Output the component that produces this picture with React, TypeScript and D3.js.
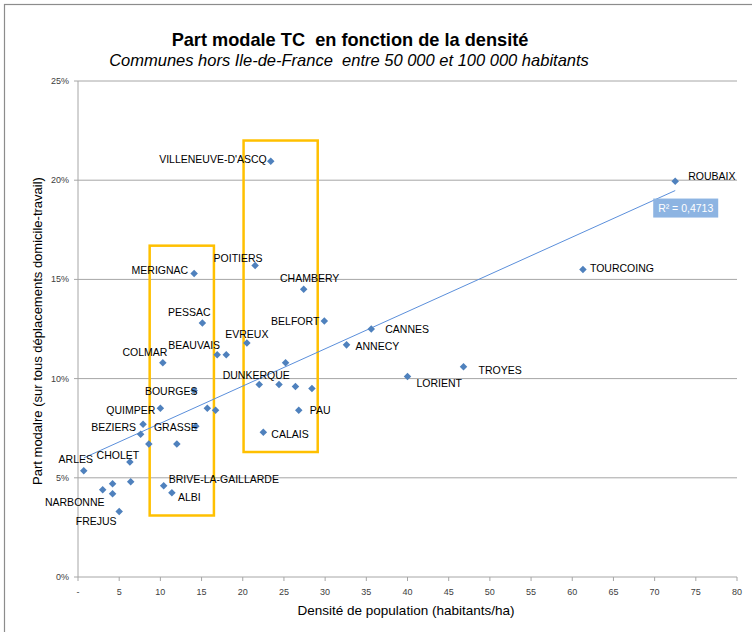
import React from "react";
import * as d3 from "d3";

// ---- data ----
const cities = [
  "ROUBAIX", "TOURCOING", "TROYES", "LORIENT", "CANNES", "ANNECY", "BELFORT", "CHAMBERY",
  "VILLENEUVE-D'ASCQ", "POITIERS", "MERIGNAC", "PESSAC", "EVREUX", "BEAUVAIS", "", "COLMAR",
  "DUNKERQUE", "", "", "", "", "PAU", "CALAIS", "BOURGES", "", "", "QUIMPER", "BEZIERS", "",
  "GRASSE", "", "", "ARLES", "CHOLET", "", "", "NARBONNE", "", "FREJUS", "BRIVE-LA-GAILLARDE", "ALBI",
];
const density = [
  72.5, 61.3, 46.8, 40.0, 35.6, 32.6, 29.9, 27.4,
  23.4, 21.5, 14.1, 15.1, 20.5, 16.9, 18.0, 10.3,
  22.0, 24.4, 26.4, 28.4, 25.2, 26.8, 22.5, 14.1, 15.7, 16.7, 10.0, 7.9, 7.6,
  14.3, 12.0, 8.6, 0.7, 6.3, 6.4, 4.2, 3.0, 4.2, 5.0, 10.4, 11.4,
];
const share = [
  19.95, 15.5, 10.6, 10.1, 12.5, 11.7, 12.9, 14.5,
  20.95, 15.7, 15.3, 12.8, 11.8, 11.2, 11.2, 10.8,
  9.7, 9.7, 9.6, 9.5, 10.8, 8.4, 7.3, 9.4, 8.5, 8.4, 8.5, 7.7, 7.2,
  7.6, 6.7, 6.7, 5.35, 5.8, 4.8, 4.7, 4.4, 4.2, 3.3, 4.6, 4.25,
];
const xTicks = [0, 5, 10, 15, 20, 25, 30, 35, 40, 45, 50, 55, 60, 65, 70, 75, 80];
const yTicks = [0, 5, 10, 15, 20, 25];
const highlightX0 = [8.7, 20.1];
const highlightX1 = [16.5, 29.1];
const highlightY0 = [3.1, 6.3];
const highlightY1 = [16.7, 22.0];
const r2Label = "R² = 0,4713";

// ---- label layout (pixel offsets from the marker) ----
const labelLayout: Record<string, [number, number, string]> = {
  "ROUBAIX": [13, -5, "start"],
  "TOURCOING": [7, -1, "start"],
  "TROYES": [15, 3, "start"],
  "LORIENT": [9, 6, "start"],
  "CANNES": [14, 0, "start"],
  "ANNECY": [9, 1, "start"],
  "BELFORT": [-5, 0, "end"],
  "CHAMBERY": [6, -11, "middle"],
  "VILLENEUVE-D'ASCQ": [-4, -2, "end"],
  "POITIERS": [-17, -8, "middle"],
  "MERIGNAC": [-6, -3, "end"],
  "PESSAC": [-13, -11, "middle"],
  "EVREUX": [0, -9, "middle"],
  "BEAUVAIS": [-23, -10, "middle"],
  "COLMAR": [-18, -11, "middle"],
  "DUNKERQUE": [-3, -10, "middle"],
  "PAU": [11, 0, "start"],
  "CALAIS": [8, 2, "start"],
  "BOURGES": [-23, 0, "middle"],
  "QUIMPER": [-5, 2, "end"],
  "BEZIERS": [-7, 3, "end"],
  "GRASSE": [-20, 1, "middle"],
  "ARLES": [-8, -12, "middle"],
  "CHOLET": [-12, -7, "middle"],
  "NARBONNE": [-28, 12, "middle"],
  "FREJUS": [-23, 9, "middle"],
  "BRIVE-LA-GAILLARDE": [5, -7, "start"],
  "ALBI": [6, 4, "start"],
};

const W = 752;
const H = 632;
const left = 78;
const right = 737;
const top = 81;
const bottom = 577;
const font = "'Liberation Sans', Arial, sans-serif";
const blue = "#4F81BD";

export default function App() {
  const x = d3.scaleLinear().domain([0, 80]).range([left, right]);
  const y = d3.scaleLinear().domain([0, 25]).range([bottom, top]);

  // linear regression
  const n = density.length;
  const mx = d3.mean(density) as number;
  const my = d3.mean(share) as number;
  let sxy = 0, sxx = 0;
  for (let i = 0; i < n; i++) {
    sxy += (density[i] - mx) * (share[i] - my);
    sxx += (density[i] - mx) ** 2;
  }
  const slope = sxy / sxx;
  const intercept = my - slope * mx;
  const [xmin, xmax] = d3.extent(density) as [number, number];
  const trend = d3.line<number>().x((d) => x(d)).y((d) => y(intercept + slope * d));
  const xe = x(xmax);
  const ye = y(intercept + slope * xmax);

  const diamond = d3.symbol().type(d3.symbolDiamond2).size(36)() as string;

  return (
    <svg width={W} height={H} style={{ position: "absolute", left: 0, top: 0 }}>
      <rect x={0} y={0} width={W} height={H} fill="#fff" />
      <rect x={4.5} y={4.5} width={W + 20} height={H + 20} fill="none" stroke="#8c8c8c" strokeWidth={1.2} />

      <text x={350} y={46} textAnchor="middle" fontFamily={font} fontWeight="bold" fontSize={18.2} fill="#000" style={{ whiteSpace: "pre" }}>
        {"Part modale TC  en fonction de la densité"}
      </text>
      <text x={349} y={66} textAnchor="middle" fontFamily={font} fontStyle="italic" fontSize={16.5} fill="#000" style={{ whiteSpace: "pre" }}>
        {"Communes hors Ile-de-France  entre 50 000 et 100 000 habitants"}
      </text>

      {/* gridlines */}
      {yTicks.filter((t) => t > 0).map((t) => (
        <line key={"g" + t} x1={left} x2={right} y1={y(t)} y2={y(t)} stroke="#a6a6a6" strokeWidth={1} />
      ))}
      {/* axes */}
      <line x1={left} x2={left} y1={top} y2={bottom} stroke="#a6a6a6" />
      <line x1={left} x2={right} y1={bottom} y2={bottom} stroke="#a6a6a6" />
      {yTicks.map((t) => (
        <g key={"yt" + t}>
          <line x1={left - 4} x2={left} y1={y(t)} y2={y(t)} stroke="#a6a6a6" />
          <text x={left - 9} y={y(t) + 3} textAnchor="end" fontFamily={font} fontSize={9} fill="#404040">{t + "%"}</text>
        </g>
      ))}
      {xTicks.map((t) => (
        <g key={"xt" + t}>
          <line x1={x(t)} x2={x(t)} y1={bottom} y2={bottom + 4} stroke="#a6a6a6" />
          <text x={x(t)} y={bottom + 18} textAnchor="middle" fontFamily={font} fontSize={9} fill="#404040">{t === 0 ? "-" : String(t)}</text>
        </g>
      ))}
      <text x={406} y={615} textAnchor="middle" fontFamily={font} fontSize={13.5} fill="#000">Densité de population (habitants/ha)</text>
      <text transform={`translate(42,${331}) rotate(-90)`} textAnchor="middle" fontFamily={font} fontSize={13} fill="#000">
        Part modalre (sur tous déplacements domicile-travail)
      </text>

      {/* highlight boxes */}
      {highlightX0.map((v, i) => (
        <rect key={"h" + i} x={x(v)} y={y(highlightY1[i])} width={x(highlightX1[i]) - x(v)} height={y(highlightY0[i]) - y(highlightY1[i])}
          fill="none" stroke="#FFC000" strokeWidth={2.5} />
      ))}

      {/* trend line */}
      <path d={trend([xmin, xmax]) as string} fill="none" stroke="#5B8FDB" strokeWidth={1} />

      {/* points */}
      {density.map((d, i) => (
        <path key={"p" + i} d={diamond} transform={`translate(${x(d)},${y(share[i])})`} fill={blue} />
      ))}

      {/* labels */}
      {cities.map((c, i) => {
        if (!c) return null;
        const [dx, dy, anchor] = labelLayout[c] || [6, 0, "start"];
        return (
          <text key={"l" + i} x={x(density[i]) + dx} y={y(share[i]) + dy + 4} textAnchor={anchor as any}
            fontFamily={font} fontSize={10.5} fill="#000">{c}</text>
        );
      })}

      {/* R² label */}
      <rect x={xe - 22} y={ye + 8} width={65} height={19} fill="#8DB4E2" />
      <text x={xe - 22 + 32.5} y={ye + 21.5} textAnchor="middle" fontFamily={font} fontSize={10.5} fill="#fff">{r2Label}</text>
    </svg>
  );
}
